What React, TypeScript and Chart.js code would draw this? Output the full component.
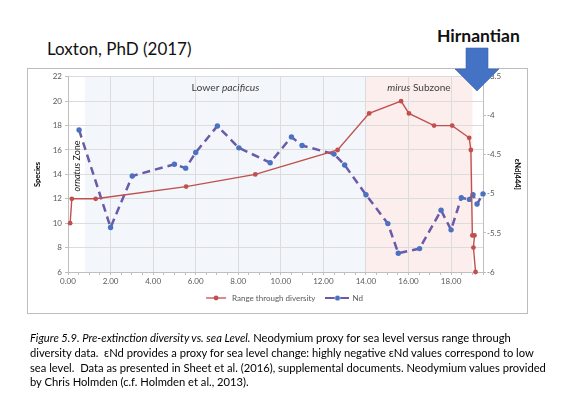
import React, { useEffect, useRef } from "react";
import { Chart, registerables } from "chart.js";

Chart.register(...registerables);

// ---- data ----
const rangeX = [0.1, 0.18, 1.3, 5.55, 8.8, 12.67, 14.15, 15.65, 16.02, 17.2, 18.05, 18.85, 18.93, 19.0, 19.1, 19.05, 19.15];
const rangeY = [10, 12, 12, 13, 14, 16, 19, 20, 19, 18, 18, 17, 16, 9, 9, 8, 6];

const ndX = [0.52, 2.0, 3.02, 5.0, 5.53, 6.0, 7.02, 8.03, 9.5, 10.5, 11.0, 12.5, 13.0, 14.0, 15.03, 15.52, 16.52, 17.53, 18.0, 18.48, 18.86, 19.03, 19.22, 19.5];
const ndY = [-4.18, -5.43, -4.77, -4.62, -4.67, -4.47, -4.13, -4.41, -4.6, -4.27, -4.38, -4.49, -4.63, -5.01, -5.38, -5.76, -5.7, -5.21, -5.46, -5.05, -5.07, -5.01, -5.13, -5.0];

const xRange = [0, 19.5];
const speciesRange = [6, 22];
const ndRange = [-6, -3.5];

// shaded intervals (x units)
const lowerPacificusZone = [0.8, 14.0];
const mirusSubzone = [14.0, 19.0];

const seriesNames = ["Range through diversity", "Nd"];

const FONT = "Lato, 'Open Sans', 'DejaVu Sans', sans-serif";
const RED = "#c0504d";
const ND_LINE = "#6a5aa8";
const ND_DOT = "#4a72c0";

function makeIcon(kind: "red" | "nd"): HTMLCanvasElement {
  const c = document.createElement("canvas");
  c.width = 24;
  c.height = 8;
  const g = c.getContext("2d")!;
  if (kind === "red") {
    g.strokeStyle = RED;
    g.lineWidth = 1.3;
    g.beginPath();
    g.moveTo(1, 4);
    g.lineTo(21, 4);
    g.stroke();
    g.fillStyle = RED;
    g.beginPath();
    g.arc(11, 4, 2.4, 0, Math.PI * 2);
    g.fill();
  } else {
    g.strokeStyle = ND_LINE;
    g.lineWidth = 2;
    g.beginPath();
    g.moveTo(0, 4);
    g.lineTo(9, 4);
    g.moveTo(15, 4);
    g.lineTo(24, 4);
    g.stroke();
    g.fillStyle = ND_DOT;
    g.beginPath();
    g.arc(12, 4, 2.6, 0, Math.PI * 2);
    g.fill();
  }
  return c;
}

const shadePlugin = {
  id: "zoneShade",
  afterLayout(chart: any) {
    // the reference legend sits slightly right of centre and close under the axis
    const lg = chart.legend;
    if (lg) {
      lg.left += 7;
      lg.right += 7;
      lg.top -= 4;
      lg.bottom -= 4;
    }
  },
  beforeDraw(chart: any) {
    const { ctx, chartArea, scales } = chart;
    const x = scales.x;
    ctx.save();
    ctx.fillStyle = "#f3f7fb";
    const a = x.getPixelForValue(lowerPacificusZone[0]);
    const b = x.getPixelForValue(lowerPacificusZone[1]);
    ctx.fillRect(a, chartArea.top, b - a, chartArea.bottom - chartArea.top);
    ctx.fillStyle = "#fdeeee";
    const c = x.getPixelForValue(mirusSubzone[0]);
    const d = x.getPixelForValue(mirusSubzone[1]);
    ctx.fillRect(c, chartArea.top, d - c, chartArea.bottom - chartArea.top);
    ctx.restore();
  },
};

function ChartCanvas() {
  const ref = useRef<HTMLCanvasElement | null>(null);
  useEffect(() => {
    if (!ref.current) return;
    const icons = [makeIcon("red"), makeIcon("nd")];
    const tickFont = { family: FONT, size: 8 };
    const chart = new Chart(ref.current, {
      type: "line",
      data: {
        datasets: [
          {
            label: seriesNames[0],
            data: rangeX.map((x, i) => ({ x, y: rangeY[i] })),
            yAxisID: "y",
            borderColor: RED,
            backgroundColor: RED,
            borderWidth: 1.4,
            pointRadius: 2.4,
            pointBorderWidth: 0,
            pointBackgroundColor: RED,
            tension: 0,
            clip: false as any,
          },
          {
            label: seriesNames[1],
            data: ndX.map((x, i) => ({ x, y: ndY[i] })),
            yAxisID: "y2",
            borderColor: ND_LINE,
            backgroundColor: ND_DOT,
            borderWidth: 2.5,
            borderDash: [8, 5],
            pointRadius: 2.7,
            pointBorderWidth: 0,
            pointBackgroundColor: ND_DOT,
            tension: 0,
            clip: false as any,
          },
        ],
      },
      options: {
        responsive: false,
        animation: false,
        devicePixelRatio: 1,
        layout: { padding: { top: 7, left: 0, right: 0, bottom: 1 } },
        plugins: {
          tooltip: { enabled: false },
          legend: {
            position: "bottom",
            maxHeight: 25,
            labels: {
              usePointStyle: true,
              pointStyleWidth: 22,
              padding: 11,
              color: "#595959",
              font: { family: FONT, size: 8 },
              generateLabels: (ch: any) =>
                ch.data.datasets.map((ds: any, i: number) => ({
                  text: ds.label,
                  pointStyle: icons[i],
                  fillStyle: "rgba(0,0,0,0)",
                  strokeStyle: "rgba(0,0,0,0)",
                  lineWidth: 0,
                  hidden: false,
                  datasetIndex: i,
                  fontColor: "#595959",
                })),
            },
          },
        },
        scales: {
          x: {
            type: "linear",
            min: xRange[0],
            max: xRange[1],
            afterFit: (s: any) => {
              s.height = 15;
            },
            ticks: {
              stepSize: 0.5,
              autoSkip: false,
              maxRotation: 0,
              padding: 2,
              color: "#595959",
              font: tickFont,
              callback: (v: any) => (Number(v) % 2 === 0 ? Number(v).toFixed(2) : ""),
            },
            grid: {
              color: (c: any) =>
                c.tick && c.tick.value % 2 === 0 && c.tick.value !== 0 ? "#dcdcdc" : "rgba(0,0,0,0)",
              tickColor: "#bfbfbf",
              tickLength: 3,
            },
            border: { color: "#bfbfbf" },
          },
          y: {
            type: "linear",
            position: "left",
            min: speciesRange[0],
            max: speciesRange[1],
            afterFit: (s: any) => {
              s.width = 40;
            },
            ticks: {
              stepSize: 2,
              padding: 3,
              color: "#595959",
              font: tickFont,
              callback: (v: any) => String(v),
            },
            grid: { color: "#dcdcdc", tickColor: "#bfbfbf", tickLength: 3 },
            border: { color: "#bfbfbf" },
            title: {
              display: true,
              text: "Species",
              color: "#000",
              font: { family: FONT, size: 7.5, weight: "bold" },
              padding: { top: 5, bottom: 4 },
            },
          },
          y2: {
            type: "linear",
            position: "right",
            min: ndRange[0],
            max: ndRange[1],
            afterFit: (s: any) => {
              s.width = 44;
            },
            ticks: {
              stepSize: 0.5,
              padding: 1,
              color: "#595959",
              font: tickFont,
              callback: (v: any) => String(v),
            },
            grid: { drawOnChartArea: false, tickColor: "#bfbfbf", tickLength: 3 },
            border: { color: "#bfbfbf" },
            title: {
              display: true,
              text: "εNd[444]",
              color: "#000",
              font: { family: FONT, size: 7.5, weight: "bold" },
              padding: { top: 5, bottom: 4 },
            },
          },
        },
      },
      plugins: [shadePlugin],
    } as any);
    return () => chart.destroy();
  }, []);
  return (
    <canvas
      ref={ref}
      width={499}
      height={244}
      style={{ position: "absolute", left: 28, top: 69, width: 499, height: 244 }}
    />
  );
}

const abs = (s: React.CSSProperties): React.CSSProperties => ({ position: "absolute", whiteSpace: "nowrap", ...s });

export default function App() {
  const capStyle: React.CSSProperties = { fontSize: 11.2, lineHeight: "14px", color: "#000" };
  return (
    <div
      style={{
        position: "fixed",
        left: 0,
        top: 0,
        width: 574,
        height: 419,
        background: "#fff",
        overflow: "hidden",
        fontFamily: FONT,
      }}
    >
      <div style={abs({ left: 47, top: 38, fontSize: 17, lineHeight: "22px", color: "#111" })}>Loxton, PhD (2017)</div>
      <div style={abs({ left: 437, top: 25, fontSize: 17.5, fontWeight: 700, lineHeight: "22px", color: "#111" })}>
        Hirnantian
      </div>

      <div
        style={{
          position: "absolute",
          left: 27,
          top: 68,
          width: 501,
          height: 246,
          border: "1px solid #bdbdbd",
          boxSizing: "border-box",
        }}
      />
      <ChartCanvas />

      {/* in-chart zone labels */}
      <div
        style={abs({
          left: 225.5,
          top: 81,
          fontSize: 10.3,
          lineHeight: "12px",
          color: "#404040",
          transform: "translateX(-50%)",
        })}
      >
        Lower <i>pacificus</i>
      </div>
      <div
        style={abs({
          left: 419,
          top: 81,
          fontSize: 10.1,
          lineHeight: "12px",
          color: "#404040",
          transform: "translateX(-50%)",
        })}
      >
        <i>mirus</i> Subzone
      </div>
      <div
        style={abs({
          left: 77,
          top: 166,
          fontSize: 9,
          lineHeight: "12px",
          color: "#202020",
          transform: "translate(-50%, -50%) rotate(-90deg)",
        })}
      >
        <i>ornatus</i> Zone
      </div>

      <svg
        width={574}
        height={419}
        style={{ position: "absolute", left: 0, top: 0, pointerEvents: "none" }}
      >
        <polygon
          points="466,48 488,48 488,69 499,69 477,91 455,69 466,69"
          fill="#4472c4"
          stroke="#3b66b3"
          strokeWidth={0.6}
        />
      </svg>

      <div style={abs({ left: 30, top: 331, ...capStyle })}>
        <i>Figure 5.9. Pre-extinction diversity vs. sea Level.</i> Neodymium proxy for sea level versus range through
      </div>
      <div style={abs({ left: 30, top: 346, ...capStyle })}>
        diversity data.&nbsp; εNd provides a proxy for sea level change: highly negative εNd values correspond to low
      </div>
      <div style={abs({ left: 30, top: 360.5, ...capStyle })}>
        sea level.&nbsp; Data as presented in Sheet et al. (2016), supplemental documents. Neodymium values provided
      </div>
      <div style={abs({ left: 30, top: 375, ...capStyle })}>
        by Chris Holmden (c.f. Holmden et al., 2013).
      </div>
    </div>
  );
}
